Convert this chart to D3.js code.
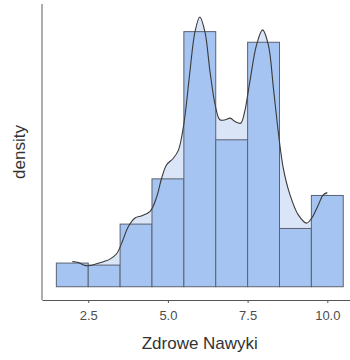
<!DOCTYPE html>
<html>
<head>
<meta charset="utf-8">
<script src="https://cdn.jsdelivr.net/npm/d3@7"></script>
<style>
  html, body { margin: 0; padding: 0; background: #ffffff; }
  svg { display: block; }
</style>
</head>
<body>
<svg id="chart" width="350" height="360"></svg>
<script>
// Histogram bins (unit width, left edges) and their densities
const binStarts = [1.5, 2.5, 3.5, 4.5, 5.5, 6.5, 7.5, 8.5, 9.5];
const binDensity = [0.0234, 0.0214, 0.0619, 0.1066, 0.2521, 0.1452, 0.2416, 0.0576, 0.0902];

// Kernel density estimate, sampled along the observed range
const kdeX = [2.00, 2.19, 2.35, 2.50, 2.76, 3.00, 3.18, 3.39, 3.55, 3.76, 3.97, 4.18, 4.44, 4.65,
              4.80, 4.96, 5.17, 5.33, 5.48, 5.57, 5.69, 5.85, 6.00, 6.16, 6.32, 6.48, 6.63, 6.80,
              6.95, 7.12, 7.28, 7.40, 7.57, 7.78, 7.97, 8.15, 8.31, 8.46, 8.62, 8.83, 9.09, 9.35,
              9.51, 9.72, 9.87, 10.00];
const kdeY = [0.0250, 0.0240, 0.0215, 0.0207, 0.0227, 0.0250, 0.0273, 0.0326, 0.0431, 0.0596, 0.0680,
              0.0701, 0.0744, 0.0890, 0.1070, 0.1205, 0.1270, 0.1350, 0.1570, 0.1780, 0.2126, 0.2520,
              0.2665, 0.2520, 0.2126, 0.1800, 0.1650, 0.1650, 0.1666, 0.1630, 0.1616, 0.1720, 0.2027,
              0.2390, 0.2538, 0.2390, 0.1960, 0.1534, 0.1170, 0.0908, 0.0710, 0.0629, 0.0678, 0.0810,
              0.0908, 0.0930];

const xTicks = [2.5, 5.0, 7.5, 10.0];
const xTitle = "Zdrowe Nawyki";
const yTitle = "density";

const svg = d3.select("#chart");
const binWidth = 1;
const font = "'Liberation Sans', Arial, sans-serif";

const x = d3.scaleLinear().domain([1.05, 10.95]).range([42, 357.6]);
const y = d3.scaleLinear().domain([-0.0131, 0.2794]).range([300, 4]);

const kde = kdeX.map((v, i) => ({ x: v, y: kdeY[i] }));
const bins = binStarts.map((s, i) => ({ x0: s, x1: s + binWidth, d: binDensity[i] }));

// density fill underneath the bars
svg.append("path")
  .datum(kde)
  .attr("d", d3.area().x(d => x(d.x)).y0(y(0)).y1(d => y(d.y)).curve(d3.curveCatmullRom.alpha(0.5)))
  .attr("fill", "#dae5f7");

// histogram bars
svg.append("g").selectAll("rect")
  .data(bins)
  .join("rect")
  .attr("x", d => x(d.x0))
  .attr("y", d => y(d.d))
  .attr("width", d => x(d.x1) - x(d.x0))
  .attr("height", d => y(0) - y(d.d))
  .attr("fill", "#a5c4f1")
  .attr("stroke", "#5b6270")
  .attr("stroke-width", 1);

// density outline
svg.append("path")
  .datum(kde)
  .attr("d", d3.line().x(d => x(d.x)).y(d => y(d.y)).curve(d3.curveCatmullRom.alpha(0.5)))
  .attr("fill", "none")
  .attr("stroke", "#3a3a3a")
  .attr("stroke-width", 1.1);

// axes
const xAxis = svg.append("g")
  .attr("transform", "translate(0,300)")
  .call(d3.axisBottom(x).tickValues(xTicks).tickFormat(d3.format(".1f")).tickSizeInner(3).tickSizeOuter(0).tickPadding(8));
xAxis.select(".domain").attr("stroke", "#555").attr("stroke-width", 1.1);
xAxis.selectAll(".tick line").attr("stroke", "#555");
xAxis.selectAll(".tick text")
  .attr("fill", "#4d4d4d")
  .attr("font-family", font)
  .attr("font-size", "13px");

svg.append("line")
  .attr("x1", 42).attr("x2", 42)
  .attr("y1", 4).attr("y2", 300)
  .attr("stroke", "#6a6a6a").attr("stroke-width", 1.1);

// axis titles
svg.append("text")
  .attr("x", (42 + 357.6) / 2)
  .attr("y", 349)
  .attr("text-anchor", "middle")
  .attr("font-family", font)
  .attr("font-size", "17px")
  .attr("fill", "#333")
  .text(xTitle);

svg.append("text")
  .attr("transform", "translate(25,152) rotate(-90)")
  .attr("text-anchor", "middle")
  .attr("font-family", font)
  .attr("font-size", "17px")
  .attr("fill", "#333")
  .text(yTitle);
</script>
</body>
</html>
